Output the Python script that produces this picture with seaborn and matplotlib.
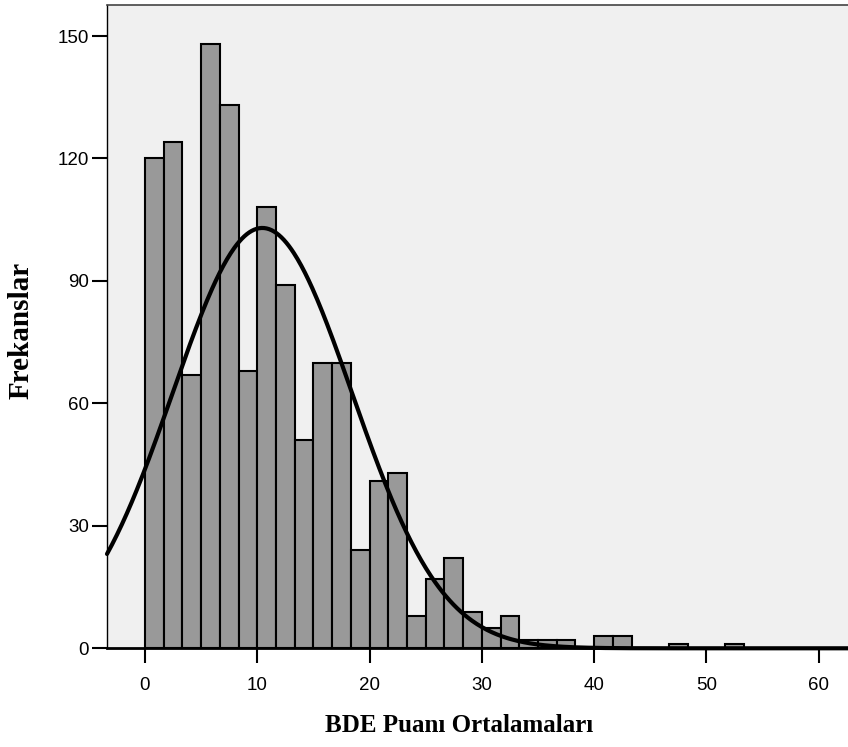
import numpy as np
import pandas as pd
import matplotlib
matplotlib.use("Agg")
import matplotlib.pyplot as plt
import seaborn as sns

# ---- data ----
bin_width = 5.0 / 3.0
bin_start = 0.0
counts = [120, 124, 67, 148, 133, 68, 108, 89, 51, 70, 70, 24, 41, 43, 8, 17,
          22, 9, 5, 8, 2, 2, 2, 0, 3, 3, 0, 0, 1, 0, 0, 1]
curve_mean = 10.45   # fitted normal curve parameters
curve_sd = 8.0
x_ticks = [0, 10, 20, 30, 40, 50, 60]
y_ticks = [0, 30, 60, 90, 120, 150]
x_label = "BDE Puanı Ortalamaları"
y_label = "Frekanslar"

n_bins = len(counts)
edges = bin_start + bin_width * np.arange(n_bins + 1)
mids = (edges[:-1] + edges[1:]) / 2
df = pd.DataFrame({"score": mids, "freq": counts})
total = sum(counts)

sns.set_theme(style="white")
plt.rcParams["font.family"] = ["Liberation Sans", "DejaVu Sans"]

fig = plt.figure(figsize=(8.48, 7.47), dpi=100)
ax = fig.add_axes([107 / 848, 1 - 648.3 / 747, 741 / 848, 643.3 / 747])
ax.set_facecolor("#f0f0f0")

sns.histplot(data=df, x="score", weights="freq", binwidth=bin_width,
             binrange=(float(edges[0]), float(edges[-1])), ax=ax,
             color="#999999", edgecolor="black", linewidth=1.5, alpha=1.0,
             zorder=2)

xlim = (-3.38, 62.6)
xs = np.linspace(xlim[0], xlim[1], 600)
ys = total * bin_width * np.exp(-0.5 * ((xs - curve_mean) / curve_sd) ** 2) / (curve_sd * np.sqrt(2 * np.pi))
ax.plot(xs, ys, color="black", linewidth=3.0, zorder=3, clip_on=False)

ax.set_xlim(*xlim)
ax.set_ylim(0, 157.6)
ax.set_xticks(x_ticks)
ax.set_yticks(y_ticks)
ax.tick_params(axis="both", which="both", direction="out", length=11, width=1.5,
               color="black", labelsize=13.5, labelcolor="black",
               bottom=True, left=True)
ax.tick_params(axis="y", pad=2)
ax.tick_params(axis="x", pad=10)

ax.spines["right"].set_visible(False)
ax.spines["top"].set_color("#444444")
ax.spines["top"].set_linewidth(1.2)
ax.spines["left"].set_color("black")
ax.spines["left"].set_linewidth(1.0)
ax.spines["bottom"].set_color("black")
ax.spines["bottom"].set_linewidth(2.0)
ax.spines["bottom"].set_zorder(4)

ax.set_xlabel(x_label, fontfamily="Liberation Serif", fontweight="bold", fontsize=18, color="black")
ax.set_ylabel(y_label, fontfamily="Liberation Serif", fontweight="bold", fontsize=21, color="black")
ax.xaxis.set_label_coords((459 - 107) / 741, (648.3 - 714) / 643.3)
ax.yaxis.set_label_coords((35 - 107) / 741, (648.3 - 330) / 643.3)

fig.savefig("out.png", dpi=100)
